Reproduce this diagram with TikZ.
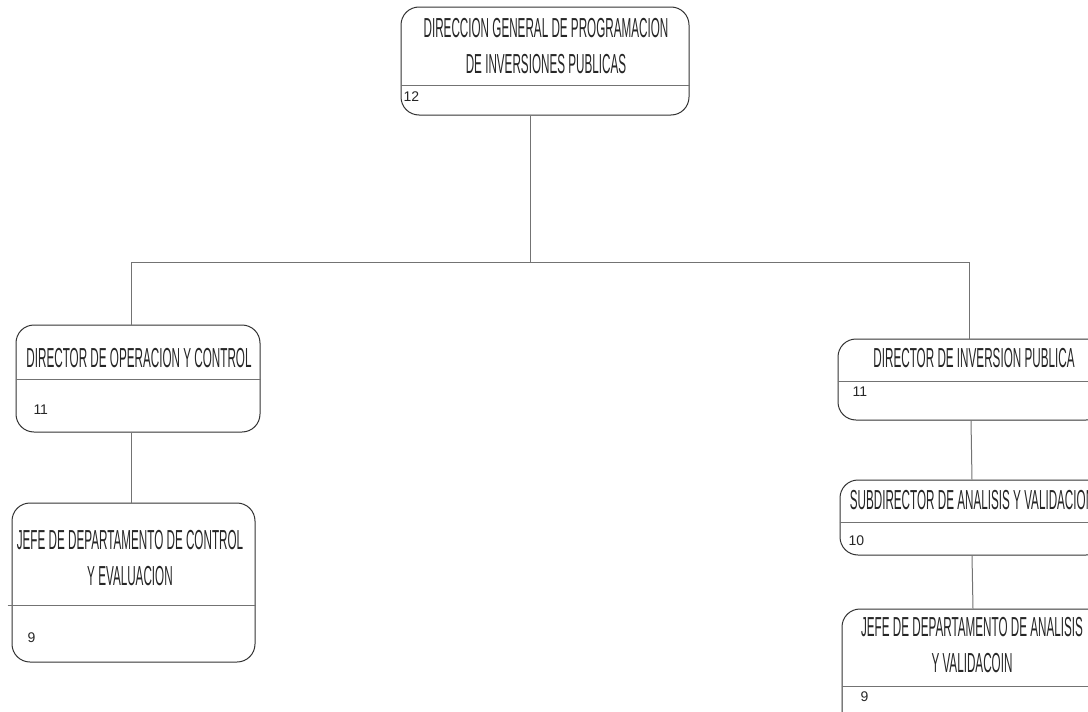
\documentclass[tikz,border=0pt]{standalone}
\usepackage{fontspec}
\setmainfont{Liberation Sans}
\newfontfamily\narrowfont[FakeStretch=0.425]{Liberation Sans}

\begin{document}
\begin{tikzpicture}[-,x=1pt,y=-1pt,line width=1pt,
                    puesto/.style={draw=black!80,rounded corners=18pt,inner sep=0pt},
                    titulo/.style={font=\narrowfont\fontsize{27.5}{36}\selectfont,align=center,
                                   text=black!85,inner sep=0pt},
                    nivel/.style={font=\fontsize{14}{16}\selectfont,anchor=west,
                                  text=black!85,inner sep=0pt},
                    raya/.style={draw=black!55},
                    liga/.style={draw=black!55}]
%  \tikzstyle{puesto}=[draw,rounded corners]
  \useasboundingbox (0,0) rectangle (1088,712);
  \clip (0,0) rectangle (1088,712);

  \node[puesto,minimum width=288pt,minimum height=108pt] (dg)  at (545,61)    {};
  \node[puesto,minimum width=244pt,minimum height=107pt] (dop) at (138,378.5) {};
  \node[puesto,minimum width=243pt,minimum height=159pt] (jdc) at (133.5,582.5) {};
  \node[puesto,minimum width=266pt,minimum height=81pt]  (dip) at (971,379.5) {};
  \node[puesto,minimum width=264pt,minimum height=75pt]  (sav) at (972,517.5) {};
  \node[puesto,minimum width=262pt,minimum height=125pt] (jav) at (973,671.5) {};

  \node[titulo] (dgT)  at (546,46)    {DIRECCION GENERAL DE PROGRAMACION\\DE INVERSIONES PUBLICAS};
  \node[titulo] (dopT) at (139,358)   {DIRECTOR DE OPERACION Y CONTROL};
  \node[titulo] (jdcT) at (130,558.5) {JEFE DE DEPARTAMENTO DE CONTROL\\Y EVALUACION};
  \node[titulo] (dipT) at (974,358)   {DIRECTOR DE INVERSION PUBLICA};
  \node[titulo] (savT) at (972,500)   {SUBDIRECTOR DE ANALISIS Y VALIDACION};
  \node[titulo] (javT) at (972,645.5) {JEFE DE DEPARTAMENTO DE ANALISIS\\Y VALIDACOIN};

  \node[nivel] (dgN)  at (403,97)  {12};
  \node[nivel] (dopN) at (33,410)  {11};
  \node[nivel] (jdcN) at (27,638)  {9};
  \node[nivel] (dipN) at (852,392) {11};
  \node[nivel] (savN) at (848,541) {10};
  \node[nivel] (javN) at (860,697) {9};

  \draw[raya] (dg.west |- 0,85)   -- (dg.east |- 0,85);
  \draw[raya] (dop.west |- 0,379) -- (dop.east |- 0,379);
  \draw[raya,shorten <=-4pt] (jdc.west |- 0,605) -- (jdc.east |- 0,605);
  \draw[raya] (dip.west |- 0,381) -- (dip.east |- 0,381);
  \draw[raya] (sav.west |- 0,522) -- (sav.east |- 0,522);
  \draw[raya] (jav.west |- 0,686) -- (jav.east |- 0,686);

  \coordinate (eje) at (530,262);
  \coordinate (izq) at (131,262);
  \coordinate (der) at (969,262);

  \path[liga] (eje |- dg.south)  edge (eje)
              (izq)              edge (der)
              (izq)              edge (izq |- dop.north)
              (der)              edge (der |- dip.north)
              (izq |- dop.south) edge (izq |- jdc.north)
              (dip.south)        edge (sav.north)
              (sav.south)        edge (jav.north);

\end{tikzpicture}
\end{document}
